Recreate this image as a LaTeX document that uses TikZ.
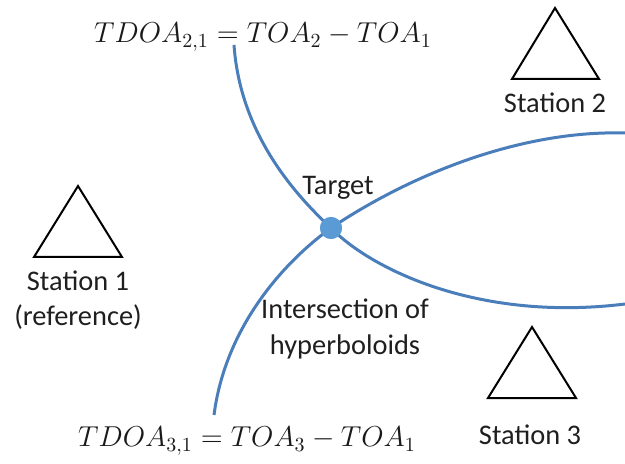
\documentclass[tikz,border=0pt]{standalone}
\usepackage{fontspec}
\setmainfont{Carlito}
\begin{document}
\begin{tikzpicture}[x=0.5pt,y=-0.5pt,
  hyper/.style={draw=curveblue,line width=1.5pt},
  station/.style={draw=black,line width=1pt,line join=miter,fill=white},
  lbl/.style={inner sep=0pt,font=\fontsize{14.2}{17.8}\selectfont,text=black!88,align=center},
  eqn/.style={inner sep=0pt,font=\fontsize{13.6}{16}\selectfont,text=black!90}]
\definecolor{curveblue}{RGB}{74,126,187}
\definecolor{dotblue}{RGB}{91,155,213}
\useasboundingbox[fill=white] (0,0) rectangle (625,464);

% end points of the two hyperbola branches
\coordinate (h1a) at (234,45);
\coordinate (h1b) at (625,304);
\coordinate (h2a) at (214,415);
\coordinate (h2b) at (625,133);
\node[circle,fill=dotblue,minimum size=11pt,inner sep=0pt] (target) at (331,228) {};

% TDOA 2,1 branch
\draw[hyper] (h1a) .. controls (240,130) and (290,190) .. (target.center)
  .. controls (372,270) and (480,322) .. (h1b);
% TDOA 3,1 branch
\draw[hyper] (h2a) .. controls (225,330) and (280,265) .. (target.center)
  .. controls (410,175) and (520,130) .. (h2b);
\node[circle,fill=dotblue,minimum size=11pt,inner sep=0pt] at (target) {};

% stations
\draw[station] (78,186) -- (122,257) -- (34,257) -- cycle;
\draw[station] (555,8) -- (599,79) -- (512,79) -- cycle;
\draw[station] (532,327) -- (576,398) -- (488,398) -- cycle;

\node[lbl] (s1) at (78,300) {Station 1\\(reference)};
\node[lbl] (s2) at (555,103) {Station 2};
\node[lbl] (s3) at (530,435) {Station 3};
\node[lbl] (tlabel) at (338,188) {Target};
\node[lbl] (isect) at (345,329) {Intersection of\\hyperboloids};

\node[eqn] (eq21) at (263,37) {$TDOA_{2,1}=TOA_2-TOA_1$};
\node[eqn] (eq31) at (247,441) {$TDOA_{3,1}=TOA_3-TOA_1$};
\end{tikzpicture}
\end{document}
